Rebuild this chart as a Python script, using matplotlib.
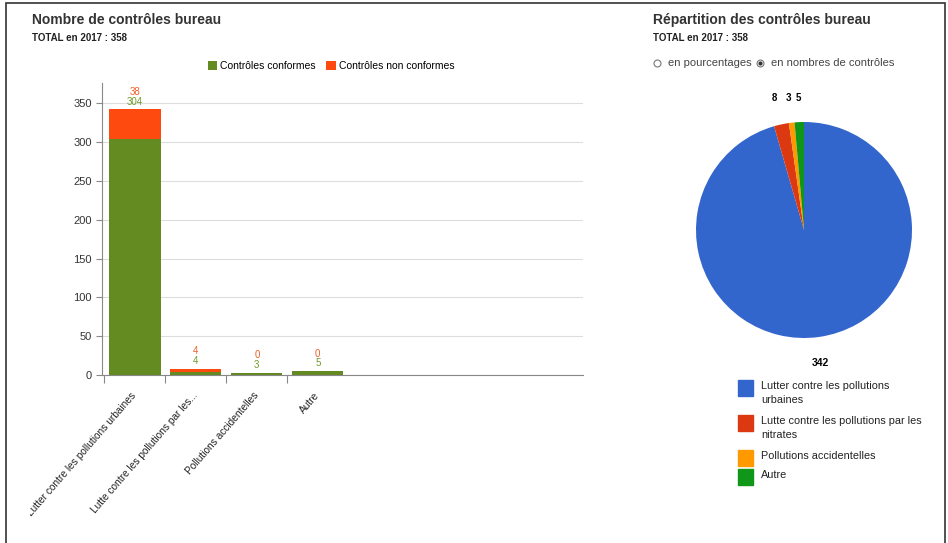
import matplotlib.pyplot as plt
from matplotlib.lines import Line2D
from matplotlib.patches import Rectangle
from matplotlib.transforms import Bbox, TransformedBbox

plt.rcParams["font.family"] = ["Liberation Sans", "DejaVu Sans"]

# bar chart data
categories = [
    "Lutter contre les pollutions urbaines",
    "Lutte contre les pollutions par les...",
    "Pollutions accidentelles",
    "Autre",
]
conformes = [304, 4, 3, 5]
non_conformes = [38, 4, 0, 0]

# pie chart data
pie_labels = [
    "Lutter contre les pollutions\nurbaines",
    "Lutte contre les pollutions par les\nnitrates",
    "Pollutions accidentelles",
    "Autre",
]
pie_values = [342, 8, 3, 5]
pie_colors = ["#3366cc", "#dc3912", "#ff9900", "#109618"]

GREEN = "#648a22"
RED = "#ff4a0f"
W, H = 948, 543


def px_box(x0, y0, x1, y1):
    # pixel box (top-left origin) -> figure fraction [l, b, w, h]
    return [x0 / W, 1 - y1 / H, (x1 - x0) / W, (y1 - y0) / H]


def fx(px):
    return px / W


def fy(py):
    return 1 - py / H


fig = plt.figure(figsize=(W / 100, H / 100), dpi=100)
fig.patch.set_facecolor("white")

# outer frame
fig.add_artist(Rectangle((fx(6), -0.01), 939 / W, 1 - 3 / H + 0.01,
                         transform=fig.transFigure, fill=False,
                         edgecolor="#333333", linewidth=1.2))

# titles
fig.text(fx(32), fy(20), "Nombre de contrôles bureau", fontsize=10,
         fontweight="bold", color="#333333", va="center")
fig.text(fx(32), fy(38), "TOTAL en 2017 : 358", fontsize=7,
         fontweight="bold", color="#222222", va="center")
fig.text(fx(653), fy(20), "Répartition des contrôles bureau", fontsize=10,
         fontweight="bold", color="#333333", va="center")
fig.text(fx(653), fy(38), "TOTAL en 2017 : 358", fontsize=7,
         fontweight="bold", color="#222222", va="center")

# radio buttons
for xp, checked, label in [(657, False, "en pourcentages"),
                           (760, True, "en nombres de contrôles")]:
    fig.add_artist(Line2D([fx(xp)], [fy(63)], marker="o", markersize=5,
                          markerfacecolor="white", markeredgecolor="#777777",
                          markeredgewidth=0.8, transform=fig.transFigure))
    if checked:
        fig.add_artist(Line2D([fx(xp)], [fy(63)], marker="o", markersize=2,
                              color="#333333", transform=fig.transFigure))
    fig.text(fx(xp + 11), fy(63), label, fontsize=8, color="#444444",
             va="center")

# stacked bars
ax = fig.add_axes(px_box(102, 83, 583, 375))
x = [i + 0.5 for i in range(len(categories))]
b1 = ax.bar(x, conformes, width=0.84, color=GREEN, label="Contrôles conformes")
b2 = ax.bar(x, non_conformes, width=0.84, bottom=conformes, color=RED,
            label="Contrôles non conformes")

ax.set_xlim(-0.04, 7.85)
ax.set_ylim(0, 376)
ax.set_yticks(range(0, 351, 50))
ax.set_xticks(range(len(categories)))
ax.set_xticklabels([])
ax.tick_params(axis="x", length=6, color="#888888", direction="out")
ax.tick_params(axis="y", length=4, color="#888888", labelsize=8,
               labelcolor="#333333")
ax.grid(axis="y", color="#dddddd", linewidth=0.8)
ax.set_axisbelow(True)
for side in ["top", "right"]:
    ax.spines[side].set_visible(False)
for side in ["left", "bottom"]:
    ax.spines[side].set_color("#888888")

for xi, c, n in zip(x, conformes, non_conformes):
    top = c + n
    ax.annotate(str(c), (xi, top), xytext=(0, 2), textcoords="offset points",
                ha="center", va="bottom", fontsize=7, color="#6f9a2a")
    ax.annotate(str(n), (xi, top), xytext=(0, 9), textcoords="offset points",
                ha="center", va="bottom", fontsize=7, color="#f0602a")

# category labels, cut at the left edge of the chart area
label_clip = TransformedBbox(Bbox([[fx(30), 0], [1, 1]]), fig.transFigure)
for xi, label in zip(x, categories):
    t = ax.annotate(label, (xi, 0), xytext=(-3, -11), textcoords="offset points",
                    ha="right", va="top", rotation=49, rotation_mode="anchor",
                    fontsize=7.3, color="#222222", annotation_clip=False)
    t.set_clip_on(True)
    t.set_clip_box(label_clip)

fig.legend(handles=[b1, b2], loc="center", bbox_to_anchor=(fx(331), fy(66)),
           ncol=2, frameon=False, fontsize=7.5, handlelength=0.9,
           handleheight=0.9, handletextpad=0.3, columnspacing=1.0)

# pie
cx, cy, r = 804, 230, 108
pax = fig.add_axes(px_box(cx - r, cy - r, cx + r, cy + r))
pax.pie(pie_values, colors=pie_colors, startangle=90, counterclock=False,
        radius=1.0, wedgeprops=dict(linewidth=0))
pax.set_xlim(-1, 1)
pax.set_ylim(-1, 1)
pax.set_aspect("equal")

# slice values
fig.text(fx(820), fy(363), str(pie_values[0]), fontsize=7.5,
         fontweight="bold", ha="center", va="center")
for xp, v in zip([774, 788, 798], pie_values[1:]):
    fig.text(fx(xp), fy(98), str(v), fontsize=7, fontweight="bold",
             ha="center", va="center")

# pie legend
legend_y = [388, 423, 458, 477]
for yp, label, col in zip(legend_y, pie_labels, pie_colors):
    fig.add_artist(Rectangle((fx(738), fy(yp + 8)), 15 / W, 16 / H,
                             transform=fig.transFigure, color=col))
    fig.text(fx(761), fy(yp - 7), label, fontsize=7.8, color="#222222",
             va="top", linespacing=1.45)

fig.savefig("out.png", dpi=100)
